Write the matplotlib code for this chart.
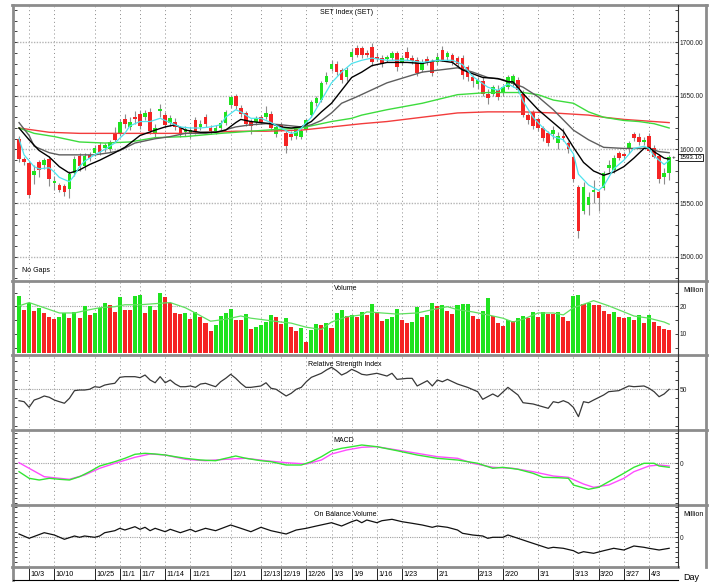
import matplotlib
matplotlib.use("Agg")
import matplotlib.pyplot as plt
from matplotlib.lines import Line2D
from matplotlib.ticker import MultipleLocator, FixedLocator

plt.rcParams['font.family'] = ['Liberation Sans', 'DejaVu Sans']
plt.rcParams['font.size'] = 5

# bar index 0 = 2022-09-29 ... 129 = 2023-04-10 (trading days only)
date_idx = [2, 7, 15, 20, 24, 29, 34, 42, 48, 52, 57, 62, 66, 71, 76, 83, 91, 96, 103, 110, 115, 120, 125]
date_lbl = ['10/3', '10/10', '10/25', '11/1', '11/7', '11/14', '11/21', '12/1', '12/13', '12/19', '12/26',
            '1/3', '1/9', '1/16', '1/23', '2/1', '2/13', '2/20', '3/1', '3/13', '3/20', '3/27', '4/3']

opens = [1610, 1591, 1587, 1576, 1588, 1586, 1591, 1569, 1567, 1566, 1563, 1578, 1594, 1585, 1595, 1597, 1604, 1601, 1600, 1615,
         1615, 1628, 1621, 1630, 1633, 1630, 1635, 1615, 1636, 1632, 1625, 1626, 1620, 1616, 1615, 1627, 1621, 1630, 1620, 1617,
         1620, 1625, 1641, 1650, 1639, 1634, 1626, 1626, 1630, 1630, 1633, 1614, 1623, 1615, 1614, 1613, 1612, 1618, 1632, 1643,
         1646, 1663, 1675, 1680, 1674, 1667, 1686, 1694, 1694, 1690, 1695, 1686, 1685, 1684, 1685, 1690, 1681, 1691, 1685, 1683,
         1674, 1684, 1681, 1681, 1693, 1686, 1688, 1685, 1685, 1677, 1667, 1661, 1664, 1652, 1652, 1655, 1653, 1658, 1661, 1665,
         1652, 1632, 1635, 1628, 1620, 1615, 1614, 1606, 1613, 1606, 1593, 1565, 1543, 1548, 1560, 1560, 1564, 1583, 1581, 1597,
         1596, 1600, 1614, 1612, 1607, 1613, 1601, 1594, 1574, 1578]
highs = [1613, 1593, 1589, 1586, 1590, 1592, 1594, 1575, 1569, 1568, 1580, 1594, 1597, 1597, 1598, 1604, 1607, 1606, 1609, 1621,
         1628, 1633, 1630, 1636, 1637, 1637, 1639, 1624, 1642, 1635, 1632, 1629, 1622, 1622, 1621, 1630, 1627, 1633, 1623, 1623,
         1627, 1637, 1651, 1652, 1641, 1636, 1628, 1631, 1632, 1640, 1636, 1623, 1626, 1617, 1617, 1621, 1619, 1629, 1646, 1650,
         1664, 1672, 1683, 1682, 1676, 1677, 1694, 1697, 1696, 1693, 1699, 1690, 1688, 1688, 1692, 1692, 1688, 1695, 1688, 1686,
         1684, 1687, 1684, 1690, 1696, 1692, 1690, 1687, 1688, 1679, 1669, 1667, 1667, 1656, 1660, 1660, 1660, 1669, 1670, 1667,
         1655, 1634, 1637, 1630, 1622, 1617, 1622, 1616, 1620, 1608, 1595, 1567, 1570, 1560, 1572, 1562, 1580, 1590, 1595, 1599,
         1598, 1608, 1616, 1615, 1612, 1615, 1604, 1596, 1583, 1595]
lows = [1588, 1586, 1555, 1568, 1574, 1582, 1566, 1562, 1560, 1557, 1555, 1575, 1580, 1581, 1589, 1594, 1595, 1598, 1598, 1607,
        1613, 1620, 1618, 1624, 1619, 1627, 1614, 1612, 1630, 1620, 1622, 1618, 1612, 1613, 1611, 1614, 1618, 1621, 1614, 1614,
        1618, 1623, 1639, 1638, 1630, 1622, 1614, 1623, 1624, 1628, 1618, 1612, 1619, 1597, 1609, 1610, 1610, 1616, 1630, 1640,
        1644, 1661, 1673, 1669, 1662, 1664, 1683, 1686, 1685, 1686, 1678, 1682, 1677, 1681, 1683, 1673, 1679, 1683, 1680, 1668,
        1672, 1679, 1668, 1679, 1682, 1683, 1679, 1678, 1666, 1664, 1658, 1656, 1650, 1642, 1650, 1646, 1650, 1656, 1658, 1653,
        1630, 1624, 1619, 1617, 1608, 1603, 1610, 1600, 1608, 1597, 1570, 1518, 1540, 1539, 1550, 1543, 1562, 1579, 1578, 1590,
        1592, 1597, 1608, 1604, 1604, 1598, 1592, 1569, 1568, 1572]
closes = [1591, 1588, 1558, 1580, 1581, 1590, 1573, 1571, 1562, 1560, 1577, 1591, 1585, 1594, 1592, 1601, 1598, 1604, 1607, 1609,
          1626, 1624, 1626, 1628, 1622, 1634, 1617, 1620, 1638, 1623, 1629, 1621, 1615, 1619, 1618, 1617, 1624, 1624, 1617, 1620,
          1625, 1635, 1649, 1640, 1633, 1624, 1622, 1629, 1626, 1634, 1620, 1621, 1621, 1603, 1612, 1619, 1617, 1627, 1644, 1648,
          1662, 1668, 1680, 1672, 1665, 1674, 1691, 1688, 1688, 1688, 1681, 1684, 1680, 1686, 1690, 1677, 1685, 1685, 1682, 1671,
          1681, 1681, 1671, 1686, 1683, 1690, 1681, 1680, 1669, 1667, 1664, 1665, 1652, 1648, 1658, 1649, 1658, 1667, 1668, 1655,
          1632, 1627, 1622, 1620, 1611, 1606, 1618, 1613, 1611, 1600, 1573, 1524, 1565, 1556, 1562, 1555, 1578, 1586, 1592, 1592,
          1594, 1606, 1611, 1607, 1609, 1599, 1593, 1573, 1578, 1593.1]

volume = [23.8, 18.8, 21.3, 18.4, 19.4, 17.7, 16.2, 15.3, 16.2, 17.5, 15.9, 18.1, 15.6, 20.0, 16.9, 17.5, 19.4, 21.3, 20.6, 18.1,
          23.5, 18.8, 18.6, 23.8, 24.0, 17.7, 20.3, 18.8, 24.8, 23.5, 21.3, 17.5, 17.3, 17.5, 15.3, 18.1, 16.0, 13.8, 11.2, 13.1,
          16.5, 17.5, 19.0, 15.0, 14.9, 17.3, 11.9, 12.5, 13.1, 14.4, 16.9, 16.0, 13.4, 15.6, 12.5, 10.9, 12.1, 7.1, 11.5, 13.4,
          13.2, 13.8, 12.3, 17.5, 18.8, 16.6, 16.9, 16.0, 18.1, 16.9, 21.0, 17.9, 14.6, 15.3, 16.0, 19.0, 15.0, 14.0, 14.2, 19.8,
          16.0, 17.0, 21.3, 20.0, 20.6, 18.4, 17.3, 20.6, 20.7, 21.0, 16.6, 15.4, 18.5, 22.9, 16.4, 13.8, 13.0, 15.0, 14.6, 15.6,
          16.5, 15.6, 18.1, 16.0, 18.1, 17.3, 17.2, 18.1, 16.2, 14.6, 23.8, 24.0, 21.0, 21.3, 20.6, 20.4, 18.4, 17.3, 18.1, 16.2,
          15.6, 16.0, 15.0, 16.9, 14.0, 16.9, 14.4, 12.9, 11.6, 11.5]

# moving averages (bar index, value)
ma5_x = [0, 1, 3, 4, 6, 7, 8, 10, 11, 12, 13, 15, 17, 19, 21, 22, 24, 26, 28, 30, 32, 34, 36, 38, 40, 41, 43, 44, 46, 48,
         50, 52, 54, 55, 56, 58, 60, 62, 64, 66, 68, 70, 73, 77, 80, 83, 86, 88, 90, 93, 95, 97, 99, 100, 102, 104, 106, 108,
         110, 111, 113, 115, 116, 118, 120, 122, 124, 125, 126, 128, 129]
ma5_y = [1610, 1595, 1584, 1582, 1583, 1579, 1574, 1570, 1576, 1584, 1589, 1595, 1600, 1606, 1615, 1622, 1626, 1626, 1629,
         1625, 1621, 1620, 1620, 1621, 1623, 1630, 1637, 1635, 1629, 1629, 1625, 1620, 1615, 1616, 1620, 1630, 1646, 1662, 1672,
         1680, 1683, 1685, 1683, 1683, 1681, 1683, 1683, 1679, 1668, 1658, 1655, 1661, 1656, 1645, 1630, 1620, 1612, 1609,
         1596, 1577, 1567, 1562, 1566, 1582, 1590, 1601, 1603, 1601, 1594, 1586, 1590]
ma10_x = [0, 2, 4, 6, 8, 10, 12, 14, 16, 19, 21, 24, 27, 29, 31, 33, 36, 39, 41, 43, 44, 46, 48, 50, 52, 54, 56, 58, 60,
          62, 64, 66, 68, 70, 73, 77, 80, 83, 86, 88, 92, 95, 97, 98, 100, 103, 106, 108, 110, 112, 114, 116, 118, 120, 122,
          124, 125, 126, 128, 129]
ma10_y = [1620, 1609, 1599, 1593, 1584, 1578, 1581, 1586, 1590, 1597, 1602, 1613, 1618, 1621, 1623, 1618, 1616, 1616, 1618,
          1625, 1628, 1626, 1625, 1624, 1621, 1620, 1621, 1626, 1635, 1643, 1655, 1667, 1672, 1678, 1681, 1681, 1680, 1683,
          1681, 1674, 1667, 1666, 1663, 1663, 1652, 1637, 1625, 1617, 1602, 1588, 1580, 1576, 1579, 1584, 1592, 1601, 1602,
          1598, 1592, 1591]
ma25_x = [0, 2, 3, 6, 8, 12, 15, 18, 20, 23, 27, 30, 33, 37, 40, 43, 46, 49, 52, 56, 58, 60, 62, 64, 67, 73, 80, 87, 90,
          93, 96, 100, 103, 106, 110, 113, 116, 120, 123, 125, 127, 129]
ma25_y = [1625, 1613, 1603, 1597, 1595, 1595, 1595, 1597, 1599, 1606, 1610, 1612, 1615, 1615, 1617, 1621, 1623, 1624, 1623,
          1621, 1623, 1627, 1634, 1643, 1649, 1662, 1672, 1676, 1672, 1667, 1665, 1658, 1649, 1637, 1618, 1609, 1602, 1601,
          1601, 1601, 1598, 1597]
ma75_x = [0, 3, 7, 12, 17, 22, 27, 33, 40, 43, 49, 56, 59, 62, 66, 68, 73, 80, 87, 93, 100, 103, 106, 110, 113, 116, 120,
          123, 126, 129]
ma75_y = [1620, 1615, 1612, 1607, 1606, 1607, 1611, 1612, 1615, 1616, 1618, 1620, 1623, 1626, 1629, 1632, 1637, 1643, 1651,
          1653, 1653, 1651, 1646, 1643, 1635, 1630, 1627, 1626, 1624, 1620]
ma200_x = [0, 6, 12, 22, 33, 43, 49, 56, 62, 68, 73, 80, 87, 93, 100, 106, 113, 116, 120, 123, 126, 129]
ma200_y = [1620, 1616, 1615, 1615, 1615, 1617, 1617, 1618, 1621, 1624, 1626, 1630, 1634, 1635, 1635, 1634, 1632, 1630, 1628,
           1627, 1626, 1625]

vol_ma_x = [0, 2, 5, 8, 11, 14, 16, 19, 21, 24, 27, 30, 33, 35, 38, 41, 44, 46, 49, 52, 54, 57, 60, 62, 65, 68, 69, 72, 75,
            79, 82, 85, 87, 90, 93, 96, 98, 100, 103, 106, 108, 110, 113, 114, 117, 120, 122, 125, 128, 129]
vol_ma_y = [20.2, 21.4, 19.5, 17.6, 17.6, 18.8, 19.5, 19.9, 20.6, 20.6, 21.0, 21.4, 19.5, 17.6, 14.6, 15.3, 16.5, 15.7, 15.0,
            14.3, 13.9, 12.4, 11.6, 14.3, 16.2, 16.9, 18.0, 17.6, 17.2, 17.6, 18.8, 19.9, 18.8, 18.0, 16.9, 15.7, 14.3, 15.3,
            17.6, 17.6, 16.9, 19.5, 21.4, 22.1, 20.2, 18.0, 16.5, 15.7, 14.3, 13.5]

rsi_x = [0, 1, 2, 3, 4, 5, 6, 7, 8, 9, 10, 11, 12, 13, 14, 15, 16, 17, 18, 19, 20, 21, 22, 23, 24, 25, 26, 27, 28, 29, 30,
         31, 32, 33, 34, 35, 36, 37, 38, 39, 40, 41, 42, 43, 44, 45, 46, 48, 49, 50, 51, 53, 54, 55, 56, 57, 58, 60, 61, 62,
         63, 64, 65, 66, 67, 68, 69, 71, 73, 74, 75, 77, 78, 79, 81, 82, 83, 84, 85, 87, 89, 91, 92, 94, 95, 97, 99, 100, 102,
         105, 106, 107, 108, 109, 110, 111, 112, 113, 114, 116, 117, 119, 120, 121, 122, 124, 125, 126, 127, 128, 129]
rsi_y = [37.3, 36.2, 30.1, 38.0, 39.9, 42.4, 41.0, 38.0, 36.2, 34.5, 39.9, 48.2, 48.9, 48.9, 49.7, 52.5, 51.8, 54.3, 55.4,
         56.2, 62.7, 63.4, 63.4, 63.4, 62.3, 65.2, 59.8, 56.8, 63.4, 56.8, 59.8, 55.4, 52.5, 52.5, 53.3, 51.8, 55.4, 56.2, 54.3,
         52.5, 57.9, 61.6, 66.0, 61.6, 56.2, 51.8, 51.8, 53.3, 56.8, 50.8, 49.7, 42.4, 45.3, 49.7, 51.8, 57.9, 62.7, 67.1, 70.7,
         73.6, 69.9, 65.2, 67.7, 71.4, 69.0, 66.0, 65.2, 67.1, 64.1, 67.1, 60.5, 61.6, 61.6, 53.3, 59.0, 53.3, 59.8, 57.9, 60.5,
         55.4, 51.8, 47.1, 38.8, 44.6, 41.6, 51.8, 43.5, 35.1, 33.7, 29.0, 36.2, 35.1, 37.3, 35.0, 30.0, 19.9, 36.2, 35.1, 38.0,
         43.5, 47.1, 48.2, 50.8, 53.3, 52.5, 53.3, 50.8, 47.1, 41.6, 44.6, 49.7]

macd_x = [0, 2, 4, 6, 8, 10, 12, 14, 16, 19, 21, 23, 25, 27, 29, 31, 33, 36, 39, 41, 43, 45, 48, 50, 53, 56, 58, 60, 62,
          64, 66, 68, 71, 75, 79, 83, 87, 91, 94, 96, 99, 102, 104, 107, 109, 110, 113, 115, 117, 120, 122, 124, 126, 127, 129]
macd_y = [-8.7, -15.3, -17.0, -15.3, -16.3, -17.0, -13.7, -8.7, -3.0, 1.3, 4.7, 8.7, 9.7, 9.0, 8.0, 6.3, 4.7, 3.0, 2.3,
          4.7, 7.0, 4.7, 2.3, 1.3, -2.0, -2.0, 1.3, 6.3, 12.3, 14.7, 16.3, 18.0, 16.3, 12.3, 8.0, 4.7, 3.0, -0.3, -5.3, -4.3,
          -6.3, -10.3, -14.3, -14.7, -15.3, -22.0, -26.3, -24.3, -18.7, -10.3, -4.3, -0.3, -0.3, -3.0, -4.3]
signal_x = [0, 2, 5, 8, 10, 13, 16, 19, 23, 26, 29, 33, 37, 41, 45, 49, 53, 57, 60, 62, 65, 68, 71, 75, 79, 83, 87, 90,
            94, 98, 102, 106, 109, 112, 114, 117, 120, 122, 125, 127, 129]
signal_y = [0.3, -5.3, -13.7, -15.3, -16.3, -12.0, -5.3, -0.3, 5.7, 9.0, 8.0, 3.7, 2.3, 3.7, 4.7, 2.3, 0.3, -1.0, 3.0,
            9.0, 13.0, 15.7, 16.3, 13.0, 9.7, 6.3, 4.7, -0.3, -4.3, -5.3, -8.7, -13.0, -14.3, -21.0, -24.3, -22.0, -15.3,
            -8.7, -3.0, -2.0, -3.0]

obv_x = [0, 2, 5, 7, 9, 11, 12, 13, 15, 16, 17, 19, 20, 21, 23, 24, 25, 26, 27, 29, 30, 32, 34, 35, 37, 39, 42, 44, 46,
         48, 50, 53, 55, 57, 59, 62, 64, 66, 67, 68, 69, 71, 72, 74, 76, 78, 80, 82, 83, 85, 87, 88, 90, 92, 93, 94, 96, 97,
         99, 101, 103, 105, 106, 108, 110, 111, 112, 114, 116, 118, 120, 122, 124, 125, 127, 129]
obv_y = [3.0, -1.3, 4.3, 2.0, -2.3, 1.0, -0.3, 1.0, -0.3, 1.0, 4.3, 6.3, 8.7, 7.0, 10.3, 7.7, 9.7, 6.3, 8.7, 5.3, 7.7,
         4.3, 7.7, 5.3, 8.7, 6.3, 12.0, 8.7, 5.3, 9.7, 6.3, 3.0, 7.0, 8.7, 11.0, 14.3, 11.0, 15.3, 17.0, 14.3, 17.0, 14.3,
         16.3, 17.7, 15.3, 13.7, 12.0, 9.7, 11.0, 9.7, 7.0, 3.7, 2.0, 1.0, -1.3, -0.3, -0.3, 2.0, -1.3, -4.7, -8.0, -11.3,
         -10.3, -11.3, -13.7, -16.3, -14.7, -16.3, -13.7, -11.3, -13.0, -9.0, -10.3, -11.3, -13.0, -11.3]

W, H = 715, 582
GREEN = '#1fe31f'
RED = '#f52424'
GRID = '#8a8a8a'


def rect(l, t, r, b):
    return [l / W, 1 - b / H, (r - l) / W, (b - t) / H]


def fline(x0, y0, x1, y1, **kw):
    fig.add_artist(Line2D([x0 / W, x1 / W], [1 - y0 / H, 1 - y1 / H], transform=fig.transFigure, **kw))


def ftext(x, y, s, **kw):
    fig.text(x / W, 1 - y / H, s, va='center', **kw)


def style_panel(ax, ylim, labels, minor):
    ax.set_xlim(-1.0, 130.75)
    ax.set_ylim(*ylim)
    for s in ax.spines.values():
        s.set_visible(False)
    ax.set_xticks([])
    ax.yaxis.set_major_locator(FixedLocator(labels))
    ax.yaxis.set_minor_locator(MultipleLocator(minor))
    ax.tick_params(axis='y', which='both', direction='in', left=True, right=True,
                   labelleft=False, labelright=True, length=2.5, width=0.6, pad=1.2,
                   labelsize=4.8, colors='#222222')
    for x in date_idx:
        ax.axvline(x, color=GRID, lw=0.7, ls=(0, (1, 3)), zorder=0)


fig = plt.figure(figsize=(7.15, 5.82), dpi=100)
ax_p = fig.add_axes(rect(14, 6, 678, 279))
ax_v = fig.add_axes(rect(14, 282, 678, 353))
ax_r = fig.add_axes(rect(14, 357, 678, 428))
ax_m = fig.add_axes(rect(14, 432, 678, 503))
ax_o = fig.add_axes(rect(14, 507, 678, 566))
ax_d = fig.add_axes(rect(14, 567, 678, 580))

# price panel
style_panel(ax_p, (1479.5, 1733.5), [1500, 1550, 1600, 1650, 1700], 10)
ax_p.yaxis.set_major_formatter(plt.FuncFormatter(lambda v, p: '%.2f' % v))
for lvl in [1500, 1550, 1600, 1650, 1700]:
    ax_p.axhline(lvl, color='#b4b4b4', lw=1.0, ls=(0, (1, 1)), zorder=0)

idx = list(range(len(closes)))
ccol = [GREEN if c >= o else RED for o, c in zip(opens, closes)]
body_lo = [min(o, c) for o, c in zip(opens, closes)]
body_h = [max(abs(c - o), 0.8) for o, c in zip(opens, closes)]
ax_p.vlines(idx, lows, highs, color='#8c8c8c', lw=0.8, zorder=2)
ax_p.bar(idx, body_h, bottom=body_lo, width=0.72, color=ccol, lw=0, zorder=3)

ax_p.plot(ma200_x, ma200_y, color='#f23c3c', lw=1.0, zorder=4)
ax_p.plot(ma75_x, ma75_y, color='#3ddc3d', lw=1.0, zorder=4)
ax_p.plot(ma25_x, ma25_y, color='#5e5e5e', lw=1.0, zorder=4)
ax_p.plot(ma10_x, ma10_y, color='#000000', lw=1.0, zorder=4)
ax_p.plot(ma5_x, ma5_y, color='#4fe3ee', lw=0.9, zorder=4)

ftext(347, 12, 'SET Index (SET)', ha='center', fontsize=5)
ftext(22, 270, 'No Gaps', ha='left', fontsize=5)
ftext(690.5, 157.5, '%.2f' % closes[-1], ha='center', fontsize=4.5,
      bbox=dict(boxstyle='square,pad=0.12', fc='white', ec='black', lw=0.6))
ftext(674, 157.5, '+', ha='center', fontsize=4.5)

# volume panel
style_panel(ax_v, (3, 28.9), [10, 20], 5)
ax_v.axhline(20, color='#a0a0a0', lw=0.8, ls=(0, (1, 1)), zorder=0)
vcol = [GREEN] + [GREEN if volume[i] >= volume[i - 1] else RED for i in range(1, len(volume))]
ax_v.bar(idx, [v - 3 for v in volume], bottom=3, width=0.8, color=vcol, lw=0, zorder=2)
ax_v.plot(vol_ma_x, vol_ma_y, color='#5fe05f', lw=0.9, zorder=3)
ftext(346, 289, 'Volume', ha='center', fontsize=5)
ftext(683, 290, 'Million', ha='left', fontsize=5)

# RSI panel
style_panel(ax_r, (7.6, 84.8), [50], 10)
ax_r.axhline(50, color='#a0a0a0', lw=0.8, ls=(0, (1, 1)), zorder=0)
ax_r.plot(rsi_x, rsi_y, color='#383838', lw=0.9, zorder=3)
ftext(345, 365, 'Relative Strength Index', ha='center', fontsize=5)

# MACD panel
style_panel(ax_m, (-40, 31), [0], 5)
ax_m.axhline(0, color='#a0a0a0', lw=0.8, ls=(0, (1, 1)), zorder=0)
ax_m.plot(signal_x, signal_y, color='#ff4cff', lw=1.0, zorder=3)
ax_m.plot(macd_x, macd_y, color='#33e633', lw=1.0, zorder=3)
ftext(344, 440, 'MACD', ha='center', fontsize=5)

# OBV panel
style_panel(ax_o, (-29, 30), [0], 5)
ax_o.axhline(0, color='#a0a0a0', lw=0.8, ls=(0, (1, 1)), zorder=0)
ax_o.plot(obv_x, obv_y, color='#111111', lw=0.9, zorder=3)
ftext(345, 515, 'On Balance Volume', ha='center', fontsize=5)
ftext(683, 515, 'Million', ha='left', fontsize=5)

# date row
ax_d.set_xlim(-1.0, 130.75)
ax_d.set_ylim(0, 1)
ax_d.axis('off')
ax_d.vlines(date_idx, 0, 1, color='black', lw=0.6)
for x, lbl in zip(date_idx, date_lbl):
    ax_d.text(x + 0.3, 0.45, lbl, ha='left', va='center', fontsize=5.2)
ftext(683, 577, 'Day', ha='left', fontsize=6.5)

# frame and panel separators
for yy in [4.5, 280.5, 355, 430, 505]:
    fline(12, yy, 707, yy, color='#8c8c8c', lw=2.0)
fline(12, 566.5, 678, 566.5, color='#8c8c8c', lw=2.0)
fline(13, 4.5, 13, 580, color='#8c8c8c', lw=2.0)
fline(706, 4.5, 706, 566.5, color='#8c8c8c', lw=2.0)
fline(678, 4.5, 678, 566.5, color='#333333', lw=0.8)
fline(13, 580, 678, 580, color='black', lw=0.8)

fig.savefig('out.png', dpi=100)
